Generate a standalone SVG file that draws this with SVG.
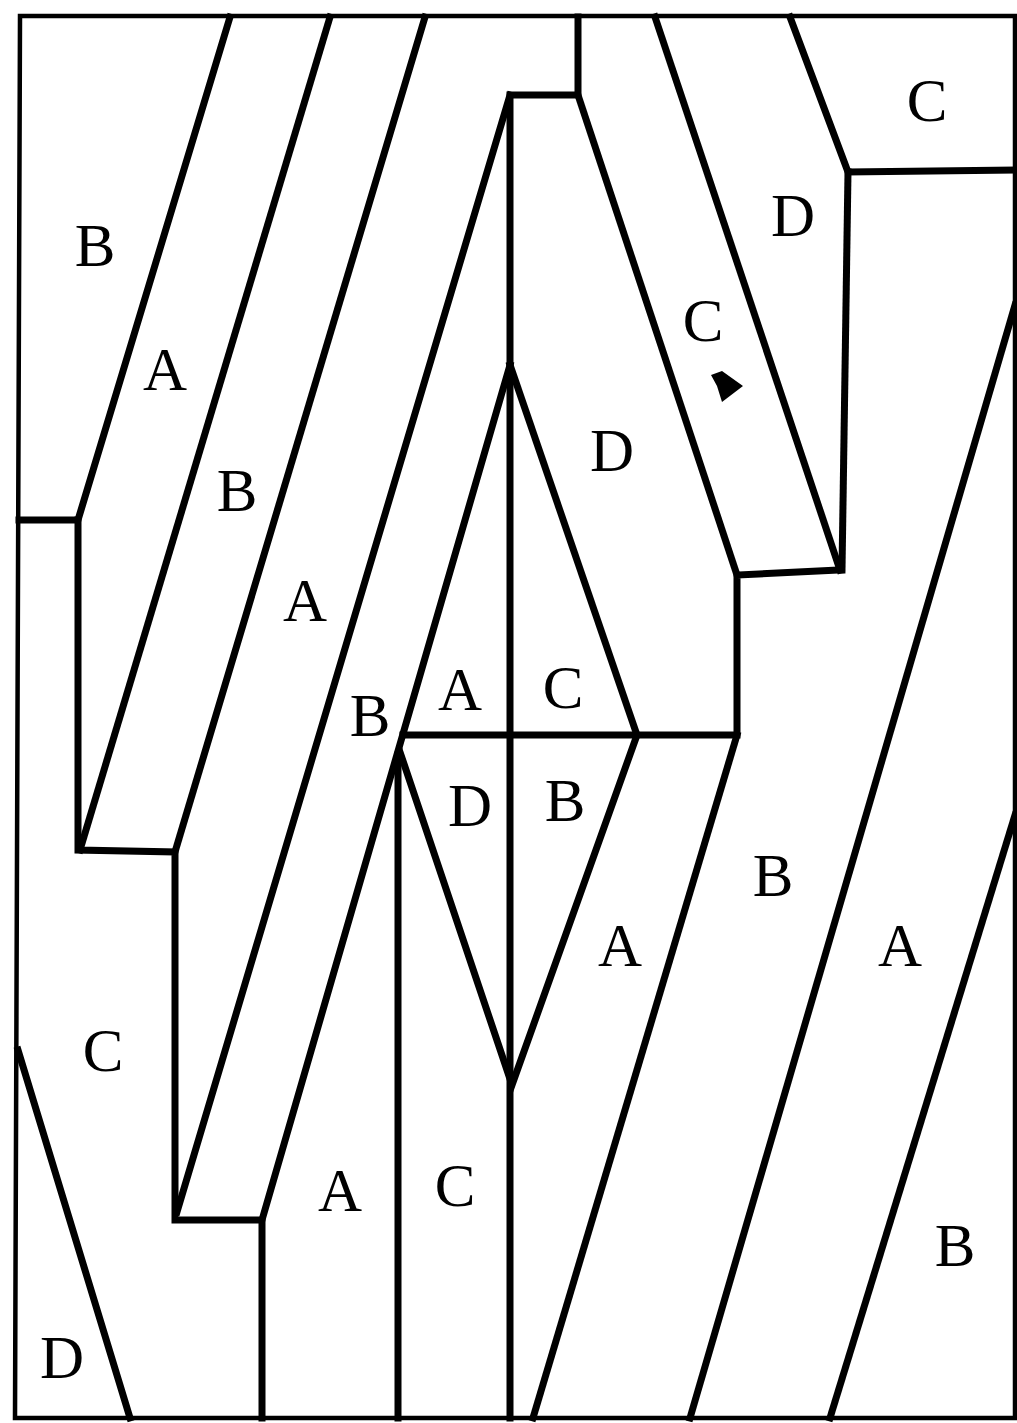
<svg xmlns="http://www.w3.org/2000/svg" width="1017" height="1423" viewBox="0 0 1017 1423">
<style>
.ln{fill:none;stroke:#000;stroke-width:7;stroke-linejoin:miter;stroke-linecap:square}
.bd{fill:none;stroke:#000;stroke-width:4.5}
.lb{font-family:"Liberation Serif",serif;font-size:61px;fill:#000;text-anchor:middle}
</style>
<rect width="1017" height="1423" fill="#fff"/>
<g id="connectors">
<polygon class="bd" points="20,16 1015,16 1015,1418 15,1418"/>
<polyline class="ln" points="230,17 78,520 19,520"/>
<polyline class="ln" points="78,520 78,850 175,852 175,1220 262,1220 262,1418"/>
<line class="ln" x1="330" y1="17" x2="80" y2="850"/>
<line class="ln" x1="425" y1="17" x2="175" y2="852"/>
<polyline class="ln" points="578,17 578,95 510,95 510,1418"/>
<line class="ln" x1="510" y1="95" x2="177" y2="1212"/>
<line class="ln" x1="510" y1="365" x2="262" y2="1220"/>
<line class="ln" x1="510" y1="365" x2="637" y2="735"/>
<polyline class="ln" points="403,735 737,735 737,575 840,570"/>
<line class="ln" x1="578" y1="95" x2="737" y2="575"/>
<line class="ln" x1="655" y1="17" x2="840" y2="570"/>
<polyline class="ln" points="790,17 848,172 1015,170"/>
<line class="ln" x1="848" y1="172" x2="842" y2="570"/>
<line class="ln" x1="398" y1="755" x2="398" y2="1418"/>
<polyline class="ln" points="400,752 512,1085 637,735"/>
<line class="ln" x1="737" y1="735" x2="533" y2="1418"/>
<line class="ln" x1="1015" y1="305" x2="690" y2="1418"/>
<line class="ln" x1="1015" y1="815" x2="830" y2="1418"/>
<line class="ln" x1="18" y1="1050" x2="130" y2="1418"/>
<polygon points="711,375 722,371 743,386 722,402 717,386" fill="#000"/>
</g>
<g id="labels">
<text class="lb" x="95" y="266">B</text>
<text class="lb" x="165" y="390">A</text>
<text class="lb" x="237" y="511">B</text>
<text class="lb" x="305" y="621">A</text>
<text class="lb" x="370" y="736">B</text>
<text class="lb" x="460" y="710">A</text>
<text class="lb" x="563" y="708">C</text>
<text class="lb" x="470" y="826">D</text>
<text class="lb" x="565" y="821">B</text>
<text class="lb" x="927" y="121">C</text>
<text class="lb" x="793" y="236">D</text>
<text class="lb" x="703" y="341">C</text>
<text class="lb" x="612" y="471">D</text>
<text class="lb" x="773" y="896">B</text>
<text class="lb" x="620" y="966">A</text>
<text class="lb" x="900" y="966">A</text>
<text class="lb" x="103" y="1071">C</text>
<text class="lb" x="340" y="1211">A</text>
<text class="lb" x="455" y="1206">C</text>
<text class="lb" x="955" y="1266">B</text>
<text class="lb" x="62" y="1378">D</text>
</g>
</svg>
